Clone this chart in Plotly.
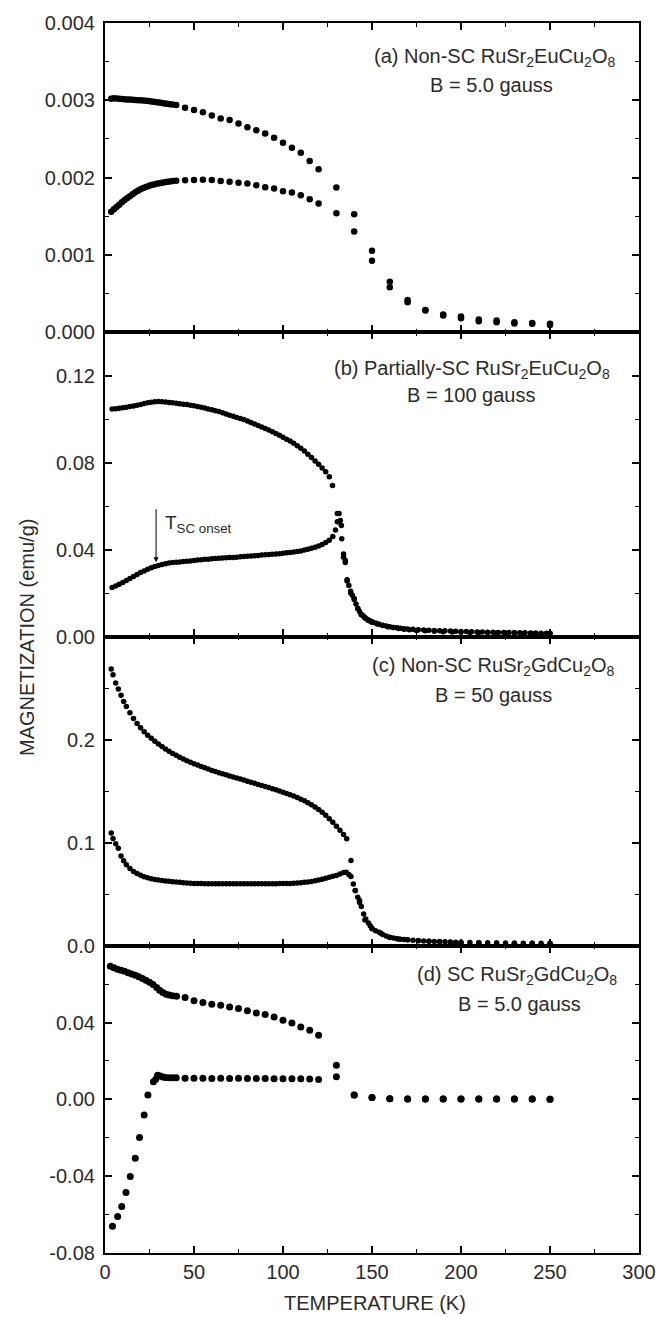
import plotly.graph_objects as go

# ---------------- data ----------------
# (a) Non-SC RuSr2EuCu2O8, B = 5.0 gauss
T_a_fc = [3.5, 5, 6.5, 8, 9.5, 11, 12.5, 14, 15.5, 17, 18.5, 20, 21.5, 23, 24.5, 26, 27.5, 29,
          30.5, 32, 33.5, 35, 36.5, 38, 40, 45, 50, 55, 60, 65, 70, 75, 80, 85, 90, 95, 100,
          105, 110, 115, 120, 130, 140, 150, 160, 170, 180, 190, 200, 210, 220, 230, 240, 250]
M_a_fc = [0.003020, 0.003025, 0.003022, 0.003020, 0.003018, 0.003015, 0.003012, 0.003010,
          0.003008, 0.003005, 0.003002, 0.003000, 0.002997, 0.002993, 0.002990, 0.002985,
          0.002980, 0.002975, 0.002970, 0.002965, 0.002960, 0.002955, 0.002950, 0.002945,
          0.002940, 0.002905, 0.002873, 0.002845, 0.002805, 0.002765, 0.002745, 0.002700,
          0.002650, 0.002612, 0.002572, 0.002516, 0.002452, 0.002387, 0.002323, 0.002215,
          0.002108, 0.001871, 0.001527, 0.001054, 0.000654, 0.000417, 0.000288, 0.000228,
          0.000202, 0.000163, 0.000151, 0.000129, 0.000120, 0.000108]
T_a_zfc = [3.5, 5, 6.5, 8, 9.5, 11, 12.5, 14, 15.5, 17, 18.5, 20, 21.5, 23, 24.5, 26, 27.5, 29,
           30.5, 32, 33.5, 35, 36.5, 38, 40, 45, 50, 55, 60, 65, 70, 75, 80, 85, 90, 95, 100,
           105, 110, 115, 120, 130, 140, 150, 160, 170, 180, 190, 200, 210, 220, 230, 240, 250]
M_a_zfc = [0.001557, 0.001590, 0.001620, 0.001650, 0.001680, 0.001710, 0.001735, 0.001760,
           0.001785, 0.001810, 0.001830, 0.001850, 0.001865, 0.001880, 0.001893, 0.001903,
           0.001912, 0.001920, 0.001928, 0.001935, 0.001940, 0.001945, 0.001950, 0.001955,
           0.001960, 0.001965, 0.001968, 0.001972, 0.001968, 0.001957, 0.001948, 0.001935,
           0.001923, 0.001901, 0.001875, 0.001858, 0.001825, 0.001806, 0.001772, 0.001720,
           0.001665, 0.001540, 0.001303, 0.000925, 0.000581, 0.000387, 0.000280, 0.000215,
           0.000181, 0.000142, 0.000129, 0.000112, 0.000108, 0.000095]

# (b) Partially-SC RuSr2EuCu2O8, B = 100 gauss
T_b_fc = [4, 6, 8, 10, 12, 14, 16, 18, 20, 22, 24, 26, 28, 30, 32, 34, 36, 38, 40, 42, 44, 46,
          48, 50, 52, 54, 56, 58, 60, 62, 64, 66, 68, 70, 72, 74, 76, 78, 80, 82, 84, 86, 88,
          90, 92, 94, 96, 98, 100, 102, 104, 106, 108, 110, 112, 114, 116, 118, 120, 122, 124,
          126, 127.8, 130.5, 131.5, 133, 134, 135, 136, 137, 138, 139, 140, 141, 142, 143, 144,
          145, 146, 147, 148, 149, 150, 152, 154, 156, 158, 160, 162, 164, 166, 168, 170, 173,
          176, 179, 182, 185, 188, 191, 194, 197, 200, 203, 206, 209, 212, 215, 218, 221, 224,
          227, 230, 233, 236, 239, 242, 245, 248, 250]
M_b_fc = [0.1047, 0.1048, 0.1050, 0.1052, 0.1055, 0.1058, 0.1061, 0.1064, 0.1068, 0.1072,
          0.1075, 0.1078, 0.1080, 0.1081, 0.1080, 0.1079, 0.1077, 0.1075, 0.1073, 0.1071,
          0.1069, 0.1067, 0.1064, 0.1062, 0.1058, 0.1055, 0.1051, 0.1047, 0.1043, 0.1039,
          0.1035, 0.1030, 0.1024, 0.1018, 0.1013, 0.1008, 0.1003, 0.0998, 0.0992, 0.0985,
          0.0978, 0.0971, 0.0964, 0.0957, 0.0950, 0.0942, 0.0934, 0.0926, 0.0917, 0.0908,
          0.0899, 0.0889, 0.0878, 0.0866, 0.0853, 0.0839, 0.0824, 0.0808, 0.0792, 0.0775,
          0.0758, 0.0735, 0.0695, 0.0566, 0.0528, 0.0450, 0.0380, 0.0350, 0.0261, 0.0235,
          0.0208, 0.0190, 0.0175, 0.0150, 0.0130, 0.0115, 0.0103, 0.0095, 0.0088, 0.0081,
          0.0076, 0.0071, 0.0068, 0.0062, 0.0057, 0.0052, 0.0048, 0.0045, 0.0042, 0.0040,
          0.0038, 0.0036, 0.0035, 0.0033, 0.0031, 0.0030, 0.0029, 0.0028, 0.0027, 0.0026,
          0.0025, 0.0024, 0.0023, 0.0023, 0.0022, 0.0021, 0.0021, 0.0020, 0.0020, 0.0019,
          0.0019, 0.0018, 0.0018, 0.0017, 0.0017, 0.0016, 0.0016, 0.0015, 0.0015, 0.0015]
T_b_zfc = [4, 6, 8, 10, 12, 14, 16, 18, 20, 22, 24, 26, 28, 30, 32, 34, 36, 38, 40, 42, 44, 46,
           48, 50, 52, 54, 56, 58, 60, 62, 64, 66, 68, 70, 72, 74, 76, 78, 80, 82, 84, 86, 88,
           90, 92, 94, 96, 98, 100, 102, 104, 106, 108, 110, 112, 114, 116, 118, 120, 122, 124,
           126, 128, 129.5, 130.5, 131.5, 132.2, 132.8, 134, 135, 136, 138, 140, 142, 144, 146,
           148, 150, 153, 156, 159, 162, 165, 168, 171, 175, 180, 185, 190, 195, 200, 205, 210,
           215, 220, 225, 230, 235, 240, 245, 250]
M_b_zfc = [0.0225, 0.0232, 0.0240, 0.0249, 0.0258, 0.0267, 0.0276, 0.0285, 0.0294, 0.0302,
           0.0309, 0.0316, 0.0322, 0.0327, 0.0331, 0.0335, 0.0338, 0.0340, 0.0342, 0.0343,
           0.0345, 0.0346, 0.0348, 0.0350, 0.0352, 0.0353, 0.0355, 0.0356, 0.0358, 0.0359,
           0.0360, 0.0361, 0.0362, 0.0363, 0.0364, 0.0365, 0.0367, 0.0368, 0.0369, 0.0370,
           0.0372, 0.0373, 0.0375, 0.0376, 0.0377, 0.0378, 0.0380, 0.0381, 0.0383, 0.0385,
           0.0387, 0.0389, 0.0391, 0.0394, 0.0398, 0.0402, 0.0406, 0.0411, 0.0416, 0.0423,
           0.0432, 0.0443, 0.0460, 0.0490, 0.0528, 0.0566, 0.0534, 0.0511, 0.0365, 0.0340,
           0.0255, 0.0200, 0.0170, 0.0128, 0.0100, 0.0085, 0.0074, 0.0066, 0.0058, 0.0051,
           0.0045, 0.0041, 0.0037, 0.0034, 0.0031, 0.0028, 0.0026, 0.0024, 0.0022, 0.0021,
           0.0020, 0.0019, 0.0018, 0.0017, 0.0016, 0.0016, 0.0015, 0.0014, 0.0014, 0.0013,
           0.0013]

# (c) Non-SC RuSr2GdCu2O8, B = 50 gauss
T_c_fc = [3.5, 4.5, 6, 7.5, 9, 10.5, 12, 14, 16, 18, 20, 22, 24, 26, 28, 30, 32, 34, 36, 38,
          40, 42, 44, 46, 48, 50, 52, 54, 56, 58, 60, 62, 64, 66, 68, 70, 72, 74, 76, 78, 80,
          82, 84, 86, 88, 90, 92, 94, 96, 98, 100, 102, 104, 106, 108, 110, 112, 114, 116, 118,
          120, 122, 124, 126, 128, 130, 132, 134, 135.8, 138.2, 140.6, 142, 143, 144, 145.3,
          146.5, 148, 149, 150, 152, 154, 156, 158, 160, 162, 164, 166, 168, 170, 173, 176,
          179, 182, 185, 188, 191, 194, 197, 200, 205, 210, 215, 220, 225, 230, 235, 240, 245,
          250]
M_c_fc = [0.2685, 0.2630, 0.2550, 0.2490, 0.2430, 0.2370, 0.2320, 0.2260, 0.2205, 0.2155,
          0.2115, 0.2075, 0.2043, 0.2013, 0.1985, 0.1958, 0.1932, 0.1908, 0.1886, 0.1866,
          0.1847, 0.1829, 0.1811, 0.1795, 0.1780, 0.1766, 0.1753, 0.1740, 0.1727, 0.1714,
          0.1701, 0.1690, 0.1679, 0.1668, 0.1658, 0.1648, 0.1638, 0.1628, 0.1617, 0.1607,
          0.1597, 0.1587, 0.1576, 0.1565, 0.1555, 0.1545, 0.1535, 0.1524, 0.1513, 0.1502,
          0.1490, 0.1478, 0.1465, 0.1452, 0.1437, 0.1422, 0.1406, 0.1388, 0.1368, 0.1346,
          0.1322, 0.1295, 0.1265, 0.1233, 0.1198, 0.1160, 0.1120, 0.1080, 0.1039, 0.0828,
          0.0536, 0.0470, 0.0438, 0.0380, 0.0308, 0.0260, 0.0220, 0.0195, 0.0170, 0.0145,
          0.0130, 0.0110, 0.0095, 0.0083, 0.0075, 0.0069, 0.0064, 0.0060, 0.0058, 0.0054,
          0.0050, 0.0047, 0.0044, 0.0042, 0.0040, 0.0038, 0.0036, 0.0034, 0.0032, 0.0031,
          0.0030, 0.0029, 0.0027, 0.0026, 0.0025, 0.0024, 0.0024, 0.0023, 0.0023]
T_c_zfc = [3.5, 4.5, 6, 7.5, 9, 10.5, 12, 14, 16, 18, 20, 22, 24, 26, 28, 30, 32, 34, 36, 38,
           40, 42, 44, 46, 48, 50, 52, 54, 56, 58, 60, 62, 64, 66, 68, 70, 72, 74, 76, 78, 80,
           82, 84, 86, 88, 90, 92, 94, 96, 98, 100, 102, 104, 106, 108, 110, 112, 114, 116, 118,
           120, 122, 124, 126, 128, 130, 132, 134, 135.5, 137, 138.2, 139.5, 140.6, 143, 146,
           150, 155, 160, 165, 170, 176, 182, 188, 194, 200, 210, 220, 230, 240, 250]
M_c_zfc = [0.1094, 0.1040, 0.0990, 0.0945, 0.0870, 0.0825, 0.0785, 0.0750, 0.0720, 0.0700,
           0.0683, 0.0670, 0.0659, 0.0650, 0.0643, 0.0637, 0.0632, 0.0628, 0.0625, 0.0621,
           0.0618, 0.0615, 0.0612, 0.0609, 0.0607, 0.0605, 0.0604, 0.0603, 0.0602, 0.0601,
           0.0601, 0.0601, 0.0601, 0.0601, 0.0601, 0.0601, 0.0601, 0.0601, 0.0601, 0.0601,
           0.0601, 0.0601, 0.0601, 0.0601, 0.0602, 0.0602, 0.0602, 0.0602, 0.0602, 0.0603,
           0.0603, 0.0604, 0.0605, 0.0607, 0.0609, 0.0612, 0.0615, 0.0619, 0.0624, 0.0631,
           0.0638, 0.0646, 0.0655, 0.0664, 0.0673, 0.0682, 0.0695, 0.0710, 0.0714, 0.0690,
           0.0672, 0.0600, 0.0536, 0.0420, 0.0250, 0.0165, 0.0120, 0.0081, 0.0066, 0.0057,
           0.0048, 0.0043, 0.0039, 0.0035, 0.0032, 0.0029, 0.0026, 0.0025, 0.0023, 0.0022]

# (d) SC RuSr2GdCu2O8, B = 5.0 gauss
T_d_fc = [3, 5, 7, 9, 11, 13, 15, 17, 19, 21, 23, 25, 27, 29, 30.7, 32.5, 34.3, 36, 38, 40.2,
          45, 50, 55, 60, 65, 70, 75, 80, 85, 90, 95, 100, 105, 110, 115, 120, 130, 140, 150,
          160, 170, 180, 190, 200, 210, 220, 230, 240, 250]
M_d_fc = [0.0693, 0.0685, 0.0678, 0.0672, 0.0667, 0.0660, 0.0653, 0.0646, 0.0638, 0.0630,
          0.0620, 0.0610, 0.0598, 0.0583, 0.0568, 0.0556, 0.0547, 0.0543, 0.0540, 0.0537,
          0.0530, 0.0513, 0.0504, 0.0495, 0.0490, 0.0481, 0.0473, 0.0461, 0.0450, 0.0442,
          0.0429, 0.0412, 0.0398, 0.0377, 0.0360, 0.0334, 0.0178, 0.0023, 0.0010, 0.0003,
          0.0002, 0.0002, 0.0002, 0.0002, 0.0002, 0.0002, 0.0002, 0.0002, 0.0001]
T_d_zfc = [4.2, 7.1, 9.4, 11.8, 14.2, 17, 19.4, 22, 24.1, 27.2, 28.5, 29.5, 31, 32.5, 34, 36,
           38, 40, 45, 50, 55, 60, 65, 70, 75, 80, 85, 90, 95, 100, 105, 110, 115, 120, 130,
           140, 150, 160, 170, 180, 190, 200, 210, 220, 230, 240, 250]
M_d_zfc = [-0.0661, -0.0610, -0.0558, -0.0485, -0.0402, -0.0306, -0.0199, -0.0081, 0.0023,
           0.0092, 0.0105, 0.0126, 0.0122, 0.0116, 0.0114, 0.0113, 0.0113, 0.0112, 0.0110,
           0.0110, 0.0110, 0.0109, 0.0110, 0.0109, 0.0110, 0.0109, 0.0109, 0.0109, 0.0108,
           0.0108, 0.0107, 0.0107, 0.0106, 0.0104, 0.0118, 0.0023, 0.0010, 0.0003, 0.0002,
           0.0002, 0.0002, 0.0002, 0.0002, 0.0002, 0.0002, 0.0002, 0.0001]

x_ticks = [0, 50, 100, 150, 200, 250, 300]
ya_ticks = [0.000, 0.001, 0.002, 0.003, 0.004]
yb_ticks = [0.00, 0.04, 0.08, 0.12]
yc_ticks = [0.0, 0.1, 0.2]
yd_ticks = [-0.08, -0.04, 0.00, 0.04]
yd_text = ["-0.08", "-0.04", "0.00", "0.04"]

# ---------------- figure ----------------
FONT = "Liberation Sans, Arial, sans-serif"
TXT = "#2b2b2b"
fig = go.Figure()

series = [
    (T_a_fc, M_a_fc, "x", "y", 6.5), (T_a_zfc, M_a_zfc, "x", "y", 6.5),
    (T_b_fc, M_b_fc, "x2", "y2", 5.5), (T_b_zfc, M_b_zfc, "x2", "y2", 5.5),
    (T_c_fc, M_c_fc, "x3", "y3", 5.5), (T_c_zfc, M_c_zfc, "x3", "y3", 5.5),
    (T_d_fc, M_d_fc, "x4", "y4", 7), (T_d_zfc, M_d_zfc, "x4", "y4", 7),
]
for T, M, xa, ya, sz in series:
    fig.add_trace(go.Scatter(x=T, y=M, xaxis=xa, yaxis=ya, mode="markers",
                             marker=dict(color="black", size=sz, symbol="circle",
                                         line=dict(width=0)),
                             showlegend=False, hoverinfo="skip"))

# panel y domains (paper), from bottom
doms = {"d": [0.0, 0.2498], "c": [0.2498, 0.5012], "b": [0.5012, 0.7486], "a": [0.7486, 1.0]}

common_axis = dict(showline=True, linecolor="black", linewidth=2.2, mirror="ticks",
                   ticks="inside", ticklen=7, tickwidth=1.6, tickcolor="black",
                   showgrid=False, zeroline=False,
                   tickfont=dict(family=FONT, size=20, color=TXT))

def xax(anchor, labels):
    d = dict(common_axis)
    d.update(range=[0, 300], tickvals=x_ticks, anchor=anchor, domain=[0, 1],
             showticklabels=labels,
             minor=dict(dtick=25, tick0=0, ticks="inside", ticklen=3.5, tickwidth=1.4,
                        tickcolor="black", showgrid=False))
    return d

def yax(anchor, dom_key, rng, tickvals, ticktext, mdt):
    d = dict(common_axis)
    d.update(range=rng, tickvals=tickvals, ticktext=ticktext, anchor=anchor,
             domain=doms[dom_key], ticklabelstandoff=4,
             minor=dict(dtick=mdt, tick0=0, ticks="inside", ticklen=3.5, tickwidth=1.4,
                        tickcolor="black", showgrid=False))
    return d

fig.update_layout(
    width=668, height=1317,
    margin=dict(l=105, r=20, t=20, b=64),
    paper_bgcolor="white", plot_bgcolor="white",
    xaxis=xax("y", False),
    xaxis2=xax("y2", False),
    xaxis3=xax("y3", False),
    xaxis4=xax("y4", True),
    yaxis=yax("x", "a", [0, 0.004], ya_ticks, ["0.000", "0.001", "0.002", "0.003", "0.004"], 0.0005),
    yaxis2=yax("x2", "b", [0, 0.14], yb_ticks, ["0.00", "0.04", "0.08", "0.12"], 0.02),
    yaxis3=yax("x3", "c", [0, 0.3], yc_ticks, ["0.0", "0.1", "0.2"], 0.05),
    yaxis4=yax("x4", "d", [-0.08, 0.08], yd_ticks, yd_text, 0.02),
)

afont = dict(family=FONT, size=20, color=TXT)
notes = [
    ("x", "y", 219, 0.00355, "(a) Non-SC RuSr<sub>2</sub>EuCu<sub>2</sub>O<sub>8</sub>"),
    ("x", "y", 217, 0.00320, "B = 5.0 gauss"),
    ("x2", "y2", 206, 0.1230, "(b) Partially-SC RuSr<sub>2</sub>EuCu<sub>2</sub>O<sub>8</sub>"),
    ("x2", "y2", 205.5, 0.1110, "B = 100 gauss"),
    ("x3", "y3", 218.5, 0.2707, "(c) Non-SC RuSr<sub>2</sub>GdCu<sub>2</sub>O<sub>8</sub>"),
    ("x3", "y3", 218, 0.2434, "B = 50 gauss"),
    ("x4", "y4", 231.5, 0.0644, "(d) SC RuSr<sub>2</sub>GdCu<sub>2</sub>O<sub>8</sub>"),
    ("x4", "y4", 232.6, 0.0499, "B = 5.0 gauss"),
]
for xr, yr, xv, yv, t in notes:
    fig.add_annotation(x=xv, y=yv, xref=xr, yref=yr, text=t, showarrow=False,
                       xanchor="center", yanchor="middle", font=afont)

# T_SC onset arrow in panel (b)
fig.add_annotation(x=28.7, y=0.0342, xref="x2", yref="y2", ax=28.7, ay=0.0593,
                   axref="x2", ayref="y2", text="", showarrow=True, arrowhead=2,
                   arrowsize=1, arrowwidth=1, arrowcolor="black")
fig.add_annotation(x=32.5, y=0.0520, xref="x2", yref="y2", xanchor="left", yanchor="middle",
                   text="T<sub>SC onset</sub>", showarrow=False,
                   font=dict(family=FONT, size=19, color=TXT))

# axis titles
fig.add_annotation(x=-0.147, y=0.5004, xref="paper", yref="paper", textangle=-90,
                   text="MAGNETIZATION (emu/g)", showarrow=False,
                   xanchor="center", yanchor="middle", font=dict(family=FONT, size=20, color=TXT))
fig.add_annotation(x=0.5055, y=-0.0406, xref="paper", yref="paper",
                   text="TEMPERATURE (K)", showarrow=False,
                   xanchor="center", yanchor="middle", font=dict(family=FONT, size=20, color=TXT))

fig.write_html("out.html")
